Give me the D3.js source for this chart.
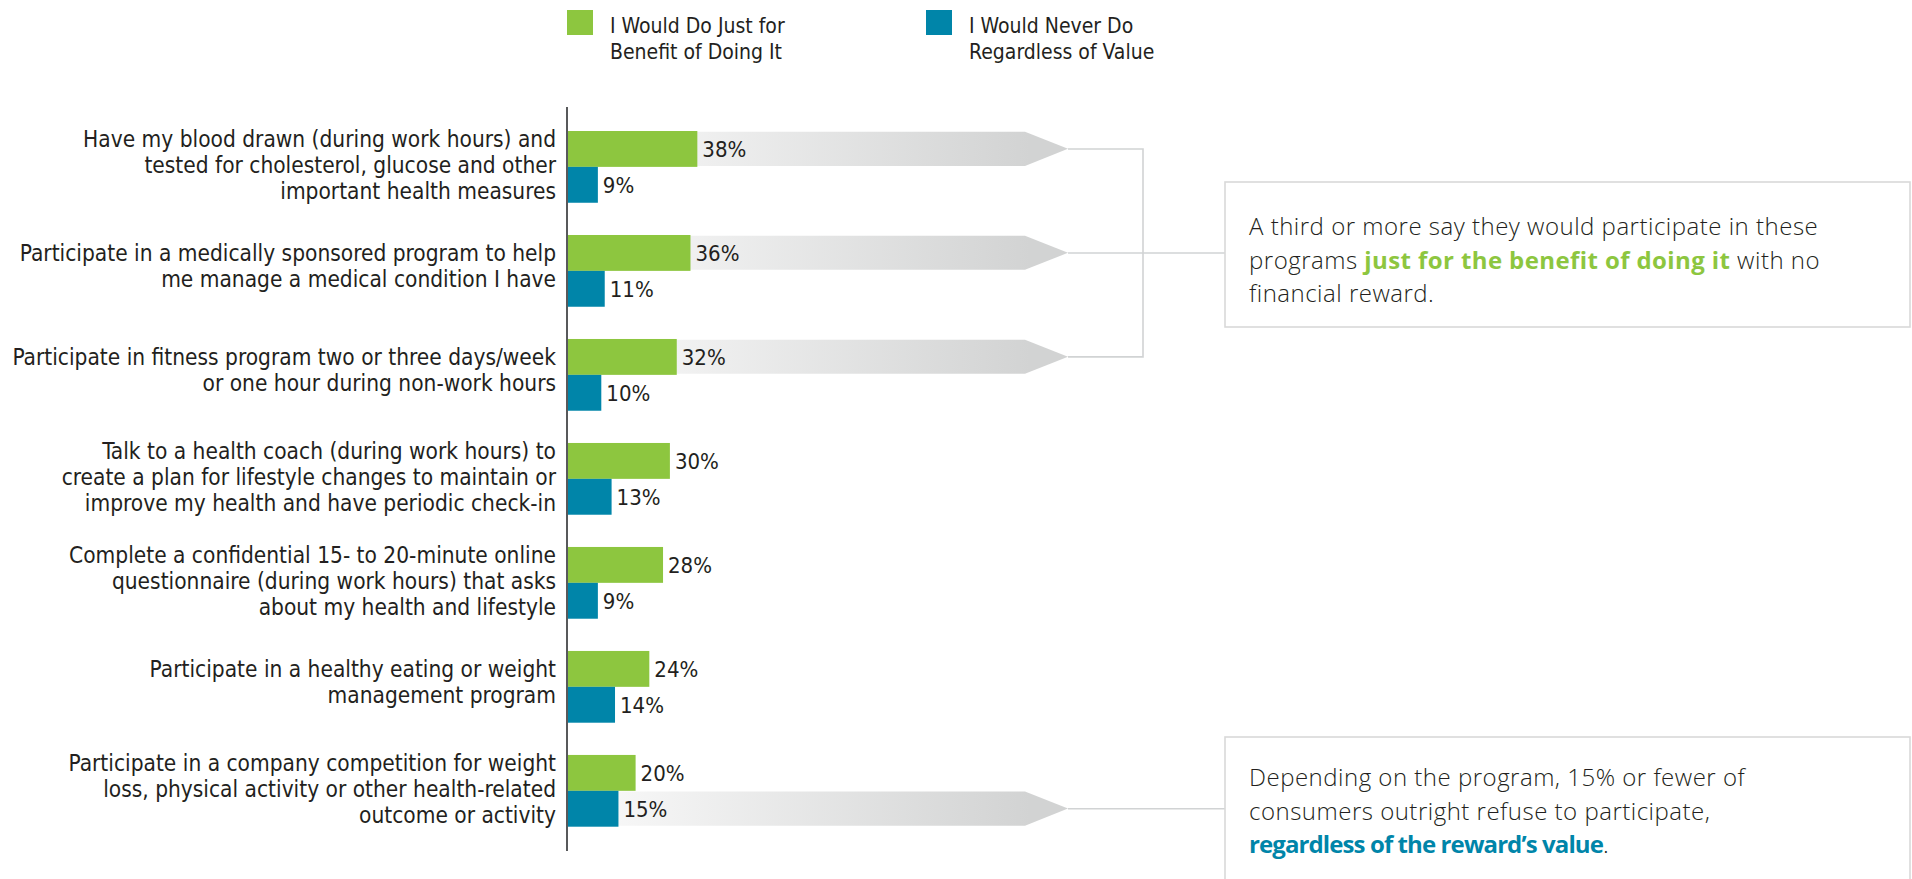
<!DOCTYPE html>
<html>
<head>
<meta charset="utf-8">
<script src="https://cdn.jsdelivr.net/npm/d3@7"></script>
<style>
  html, body { margin: 0; padding: 0; background: #ffffff; }
  svg { display: block; }
  .cond { font-family: "DejaVu Sans Condensed", "DejaVu Sans", sans-serif; font-stretch: condensed; }
  .note { font-family: "Open Sans", sans-serif; }
</style>
</head>
<body>
<svg id="chart" width="1912" height="879"></svg>
<script>
// Survey items (each label split into its printed lines)
const categories = [
  ["Have my blood drawn (during work hours) and", "tested for cholesterol, glucose and other", "important health measures"],
  ["Participate in a medically sponsored program to help", "me manage a medical condition I have"],
  ["Participate in fitness program two or three days/week", "or one hour during non-work hours"],
  ["Talk to a health coach (during work hours) to", "create a plan for lifestyle changes to maintain or", "improve my health and have periodic check-in"],
  ["Complete a confidential 15- to 20-minute online", "questionnaire (during work hours) that asks", "about my health and lifestyle"],
  ["Participate in a healthy eating or weight", "management program"],
  ["Participate in a company competition for weight", "loss, physical activity or other health-related", "outcome or activity"]
];

// Percent of respondents
const wouldDo = [38, 36, 32, 30, 28, 24, 20];
const wouldNever = [9, 11, 10, 13, 9, 14, 15];

const seriesNames = [
  ["I Would Do Just for", "Benefit of Doing It"],
  ["I Would Never Do", "Regardless of Value"]
];
const seriesKeys = ["do", "never"];
const seriesColors = ["#8dc63f", "#0085a9"];

// Rows carrying a callout arrow: [category index, series key]
const calloutRows = [[0, "do"], [1, "do"], [2, "do"], [6, "never"]];

const svg = d3.select("#chart");
const textColor = "#231f20";

const x = d3.scaleLinear().domain([0, 100]).range([567, 910]);
const y = d3.scaleBand()
  .domain(d3.range(categories.length))
  .range([131, 826.7])
  .paddingInner(0.31)
  .paddingOuter(0);
const ySub = d3.scaleBand().domain(seriesKeys).range([0, y.bandwidth()]);

const rows = categories.map((lines, i) => ({
  i, lines, do: wouldDo[i], never: wouldNever[i]
}));

// Fading arrow fill
const defs = svg.append("defs");
const grad = defs.append("linearGradient")
  .attr("id", "fade")
  .attr("gradientUnits", "userSpaceOnUse")
  .attr("x1", x(0)).attr("x2", 1030).attr("y1", 0).attr("y2", 0);
grad.append("stop").attr("offset", "0%").attr("stop-color", "#fbfbfb");
grad.append("stop").attr("offset", "100%").attr("stop-color", "#d2d3d3");

// Callout arrows behind the bars
const arrowBodyEnd = 1025, arrowTip = 1068;
const arrows = svg.append("g");
calloutRows.forEach(([ci, key]) => {
  const top = y(ci) + ySub(key) + 0.7;
  const h = ySub.bandwidth() - 1.7;
  const mid = top + h / 2;
  arrows.append("path")
    .attr("d", `M${x(0)},${top}H${arrowBodyEnd}L${arrowTip},${mid}L${arrowBodyEnd},${top + h}H${x(0)}Z`)
    .attr("fill", "url(#fade)");
});

// Connector lines to the note boxes
const lineColor = "#d1d3d4";
const tipY = ([ci, key]) => y(ci) + ySub(key) + ySub.bandwidth() / 2;
const conn = svg.append("g").attr("fill", "none").attr("stroke", lineColor).attr("stroke-width", 1.6);
const bracketX = 1143, boxX = 1225;
conn.append("path")
  .attr("d", `M${arrowTip},${tipY(calloutRows[0])}H${bracketX}V${tipY(calloutRows[2])}H${arrowTip}`);
conn.append("path")
  .attr("d", `M${arrowTip},${tipY(calloutRows[1])}H${boxX}`);
conn.append("path")
  .attr("d", `M${arrowTip},${tipY(calloutRows[3])}H${boxX}`);

// Bars
const groups = svg.append("g").selectAll("g")
  .data(rows).join("g")
  .attr("transform", d => `translate(0,${y(d.i)})`);

seriesKeys.forEach((key, si) => {
  groups.append("rect")
    .attr("x", x(0))
    .attr("y", ySub(key))
    .attr("width", d => x(d[key]) - x(0))
    .attr("height", ySub.bandwidth())
    .attr("fill", seriesColors[si]);

  groups.append("text")
    .attr("class", "cond")
    .attr("x", d => x(d[key]) + 5)
    .attr("y", ySub(key) + ySub.bandwidth() / 2 + 8)
    .attr("font-size", 22)
    .attr("fill", textColor)
    .text(d => d[key] + "%");
});

// Category labels, right-aligned against the axis
const lineGap = 26;
groups.append("text")
  .attr("class", "cond")
  .attr("text-anchor", "end")
  .attr("font-size", 22.5)
  .attr("fill", textColor)
  .selectAll("tspan")
  .data(d => d.lines.map((t, k) => ({ t, k, n: d.lines.length })))
  .join("tspan")
  .attr("x", 556)
  .attr("y", d => y.bandwidth() / 2 + (d.k - (d.n - 1) / 2) * lineGap + 6 - (d.n === 2 ? 3 : 0))
  .text(d => d.t);

// Vertical baseline axis
svg.append("line")
  .attr("x1", x(0)).attr("x2", x(0))
  .attr("y1", 107).attr("y2", 851)
  .attr("stroke", "#58595b").attr("stroke-width", 2);

// Legend
const legendX = [567, 926];
seriesNames.forEach((lines, si) => {
  const g = svg.append("g").attr("transform", `translate(${legendX[si]},0)`);
  g.append("rect").attr("x", 0).attr("y", 10).attr("width", 26).attr("height", 25)
    .attr("fill", seriesColors[si]);
  g.append("text")
    .attr("class", "cond")
    .attr("font-size", 21)
    .attr("fill", textColor)
    .selectAll("tspan").data(lines).join("tspan")
    .attr("x", 43)
    .attr("y", (d, k) => 33 + k * 26)
    .text(d => d);
});

// Note boxes
function noteBox(top, bottom, lines) {
  const g = svg.append("g");
  g.append("rect")
    .attr("x", boxX).attr("y", top)
    .attr("width", 1910 - boxX).attr("height", bottom - top)
    .attr("fill", "#ffffff")
    .attr("stroke", "#d9d9d9").attr("stroke-width", 1.6);
  lines.forEach((parts, k) => {
    const t = g.append("text")
      .attr("class", "note")
      .attr("x", 1249)
      .attr("y", top + 53 - (top > 500 ? 4 : 0) + k * 33.5)
      .attr("font-size", 24)
      .attr("font-weight", 300)
      .attr("fill", textColor);
    parts.forEach(p => {
      const s = t.append("tspan").text(p.t).attr("letter-spacing", 0.5);
      if (p.c) s.attr("fill", p.c).attr("font-weight", 700).attr("letter-spacing", p.ls);
    });
  });
}

noteBox(182, 327, [
  [{ t: "A third or more say they would participate in these" }],
  [{ t: "programs " }, { t: "just for the benefit of doing it", c: seriesColors[0], ls: 0.4 }, { t: " with no" }],
  [{ t: "financial reward." }]
]);

noteBox(737, 900, [
  [{ t: "Depending on the program, 15% or fewer of" }],
  [{ t: "consumers outright refuse to participate," }],
  [{ t: "regardless of the reward\u2019s value", c: seriesColors[1], ls: -0.9 }, { t: "." }]
]);
</script>
</body>
</html>
